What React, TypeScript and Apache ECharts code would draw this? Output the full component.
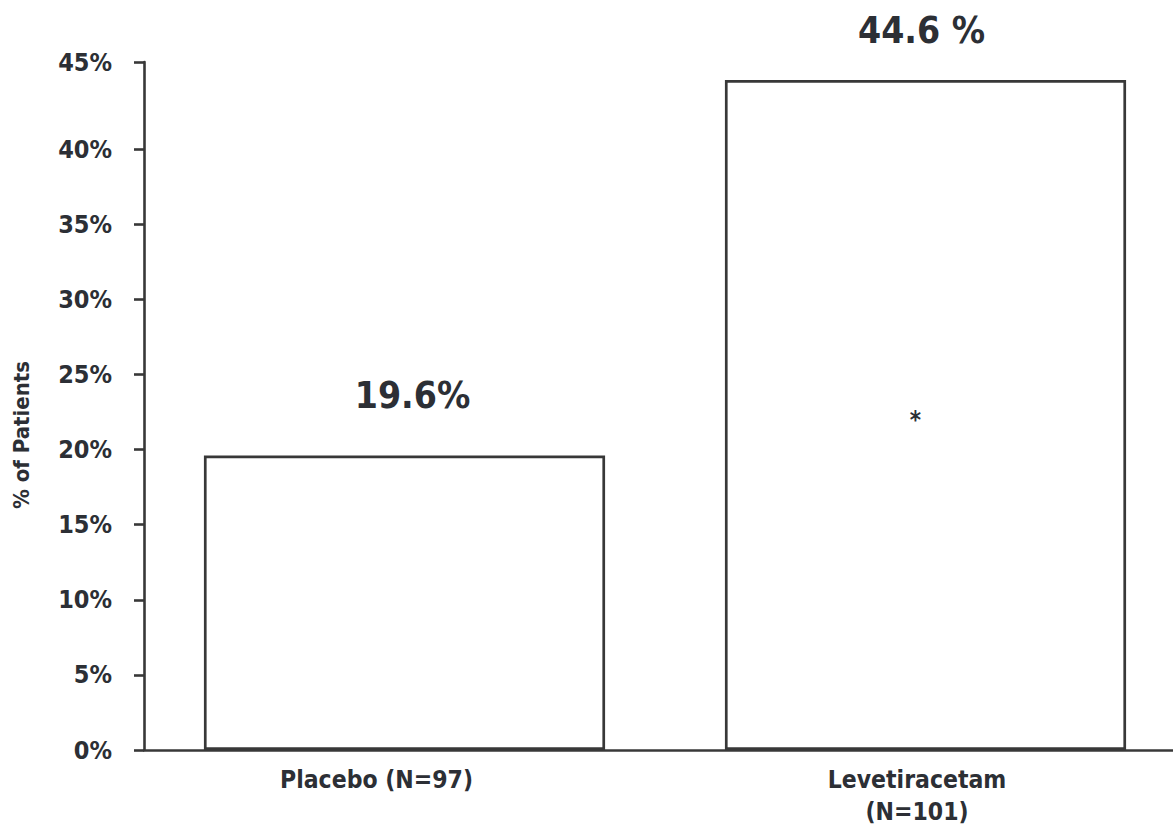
import React, { useEffect, useRef } from "react";
import * as echarts from "echarts";

const categories = ["Placebo (N=97)", "Levetiracetam\n(N=101)"];
const values = [19.6, 44.6];
const valueLabels = ["19.6%", "44.6 %"];
const marks = ["", "*"];
const tickValues = [0, 5, 10, 15, 20, 25, 30, 35, 40, 45];
const tickLabels = ["0%", "5%", "10%", "15%", "20%", "25%", "30%", "35%", "40%", "45%"];
const axisMax = 45.8;

const FONT = "'DejaVu Sans Condensed', 'Liberation Sans', Arial, sans-serif";
const TEXT = "#2c2f35";
const LINE = "#383838";

const valueLabelDistance = [40, 30];
const valueLabelOffsetX = [8, -4];
const catRich = ["p", "l"];

export default function App() {
  const ref = useRef<HTMLDivElement>(null);
  useEffect(() => {
    if (!ref.current) return;
    const chart = echarts.init(ref.current, undefined, { renderer: "svg" });
    // the last tick sits at the axis top, as in the reference
    const tickPos = tickValues.map((v, i) => (i === tickValues.length - 1 ? axisMax : v));
    const labelFor = (v: number) => {
      const idx = tickPos.findIndex((p) => Math.abs(p - v) < 1e-6);
      return idx >= 0 ? tickLabels[idx] : "";
    };
    const catStyle = {
      fontFamily: FONT,
      fontWeight: "bold",
      fontSize: 24.5,
      lineHeight: 32,
      color: TEXT,
    };
    chart.setOption({
      animation: false,
      grid: { left: 144, top: 62, width: 1042, height: 688, containLabel: false },
      xAxis: {
        type: "category",
        data: categories,
        axisLine: { lineStyle: { color: LINE, width: 2.6 } },
        axisTick: { show: false },
        axisLabel: {
          margin: 13,
          interval: 0,
          formatter: (val: string, idx: number) =>
            val
              .split("\n")
              .map((line) => `{${catRich[idx]}|${line}}`)
              .join("\n"),
          rich: {
            p: { ...catStyle, padding: [0, 56, 0, 0] },
            l: { ...catStyle, padding: [0, 17, 0, 0] },
          },
        },
      },
      yAxis: {
        type: "value",
        min: 0,
        max: axisMax,
        splitLine: { show: false },
        axisLine: { show: true, lineStyle: { color: LINE, width: 2.6 } },
        axisTick: {
          show: true,
          length: 10,
          lineStyle: { color: LINE, width: 2.6 },
          customValues: tickPos,
        },
        axisLabel: {
          margin: 32,
          fontFamily: FONT,
          fontWeight: "bold",
          fontSize: 25,
          color: TEXT,
          customValues: tickPos,
          formatter: (v: number) => labelFor(v),
        },
      },
      series: [
        {
          type: "bar",
          barWidth: "77%",
          data: values.map((v, i) => ({
            value: v,
            label: {
              show: true,
              position: "top",
              distance: valueLabelDistance[i],
              offset: [valueLabelOffsetX[i], 0],
              formatter: valueLabels[i],
              fontFamily: FONT,
              fontWeight: "bold",
              fontSize: 37,
              lineHeight: 40,
              color: TEXT,
            },
          })),
          itemStyle: { color: "#ffffff", borderColor: LINE, borderWidth: 2.7 },
          silent: true,
        },
        {
          type: "bar",
          barWidth: "77%",
          barGap: "-100%",
          data: values,
          itemStyle: { color: "rgba(0,0,0,0)", borderWidth: 0 },
          label: {
            show: true,
            position: "inside",
            offset: [-10, 5],
            formatter: (p: any) => marks[p.dataIndex],
            fontFamily: FONT,
            fontWeight: "bold",
            fontSize: 24,
            color: TEXT,
          },
          silent: true,
          z: 3,
        },
      ],
      graphic: [
        {
          type: "text",
          x: 21,
          y: 435,
          rotation: Math.PI / 2,
          style: {
            text: "% of Patients",
            fontFamily: FONT,
            fontWeight: "bold",
            fontSize: 22,
            fill: TEXT,
            align: "center",
            verticalAlign: "middle",
          },
        },
      ],
    });
    return () => chart.dispose();
  }, []);
  return (
    <div
      style={{
        position: "absolute",
        left: 0,
        top: 0,
        width: 1173,
        height: 838,
        overflow: "hidden",
        background: "#fff",
      }}
    >
      <div ref={ref} style={{ width: 1200, height: 838 }} />
    </div>
  );
}
